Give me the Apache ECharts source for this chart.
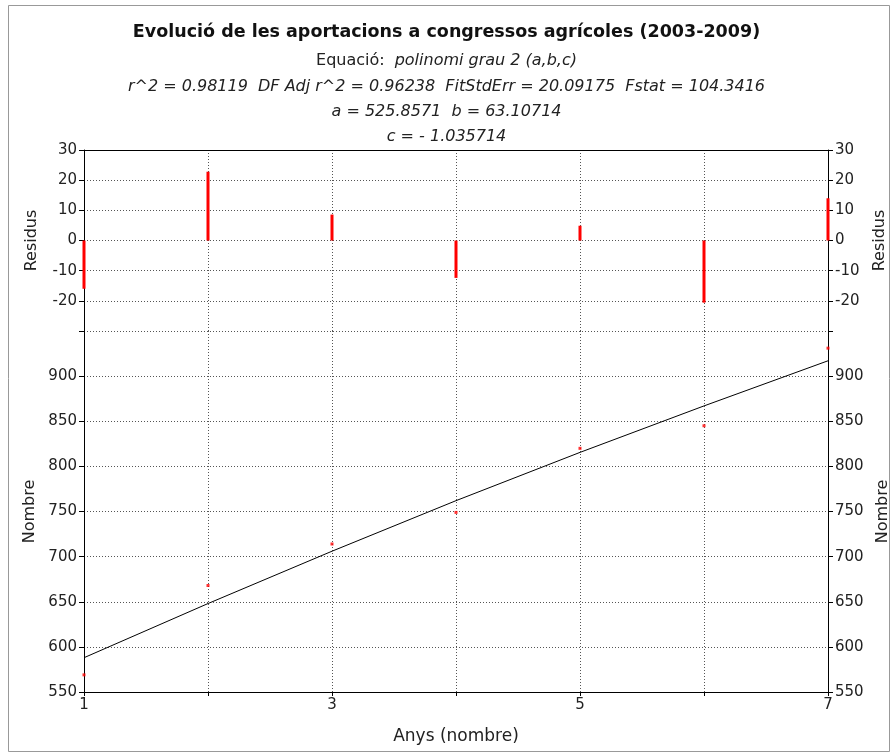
<!DOCTYPE html>
<html>
<head>
<meta charset="utf-8">
<script src="https://cdn.jsdelivr.net/npm/echarts@6/dist/echarts.min.js"></script>
<style>
  html, body { margin: 0; padding: 0; background: #fff; }
  #chart { width: 893px; height: 753px; }
</style>
</head>
<body>
<div id="chart"></div>
<script>
// Years as index (2003 = 1 ... 2009 = 7)
var years = [1, 2, 3, 4, 5, 6, 7];
// Observed contributions
var counts = [569, 668, 714, 749, 820, 845, 931];
// Fitted polynomial curve, read at each year
var fitted = [588, 648, 706, 762, 815.5, 867, 917];
// Residuals (observed - fitted)
var residuals = [-16, 22.8, 8.6, -12.4, 4.9, -20.6, 14];
// Tick labels
var xLabels = [1, 3, 5, 7];
var residTicks = [-20, -10, 0, 10, 20, 30];
var countTicks = [550, 600, 650, 700, 750, 800, 850, 900];

var FONT = 'DejaVu Sans, Liberation Sans, sans-serif';
var TXT = '#222';

var dotted = { show: true, lineStyle: { color: '#555', type: [1, 2], width: 1 } };
var subStyle = { fontFamily: FONT, fontSize: 16, fontStyle: 'italic', fontWeight: 'normal', color: TXT };

function yAxisDef(grid, pos, min, max, step, ticks, name, split) {
  return {
    type: 'value', gridIndex: grid, position: pos,
    min: min, max: max, interval: step,
    name: name, nameLocation: 'middle', nameRotate: 90, nameGap: 44,
    nameTextStyle: { fontFamily: FONT, fontSize: 16, color: TXT },
    axisLine: { show: true, onZero: false, lineStyle: { color: '#000', width: 1 } },
    axisTick: { show: true, length: 5, lineStyle: { color: '#000' } },
    axisLabel: {
      margin: 7, fontFamily: FONT, fontSize: 15, color: TXT,
      formatter: function (v) { return ticks.indexOf(v) >= 0 ? String(v) : ''; }
    },
    splitLine: split ? dotted : { show: false }
  };
}

var chart = echarts.init(document.getElementById('chart'));

var option = {
  animation: false,
  backgroundColor: '#fff',
  graphic: [{
    type: 'rect',
    shape: { x: 8.5, y: 5.5, width: 881, height: 746 },
    style: { fill: 'none', stroke: '#999', lineWidth: 1 }
  }],
  title: [
    { text: 'Evolució de les aportacions a congressos agrícoles (2003-2009)', left: 'center', top: 18,
      textStyle: { fontFamily: FONT, fontSize: 17.5, fontWeight: 'bold', color: '#111' } },
    { text: '{n|Equació:}  {i|polinomi grau 2 (a,b,c)}', left: 'center', top: 47,
      textStyle: { fontWeight: 'normal', rich: {
        n: { fontFamily: FONT, fontSize: 16, fontWeight: 'normal', color: TXT },
        i: { fontFamily: FONT, fontSize: 16, fontStyle: 'italic', fontWeight: 'normal', color: TXT }
      } } },
    { text: 'r^2 = 0.98119  DF Adj r^2 = 0.96238  FitStdErr = 20.09175  Fstat = 104.3416', left: 'center', top: 74,
      textStyle: subStyle },
    { text: 'a = 525.8571  b = 63.10714', left: 'center', top: 99, textStyle: subStyle },
    { text: 'c = - 1.035714', left: 'center', top: 124, textStyle: subStyle }
  ],
  grid: [
    { left: 84, right: 65, top: 150, height: 181, containLabel: false, outerBoundsMode: 'none' },
    { left: 84, right: 65, top: 331, bottom: 61, containLabel: false, outerBoundsMode: 'none' }
  ],
  xAxis: [
    {
      type: 'value', gridIndex: 0, position: 'top', min: 1, max: 7, interval: 1,
      axisLine: { show: true, onZero: false, lineStyle: { color: '#000', width: 1 } },
      axisTick: { show: false }, axisLabel: { show: false },
      splitLine: dotted
    },
    {
      type: 'value', gridIndex: 1, position: 'bottom', min: 1, max: 7, interval: 1,
      name: 'Anys (nombre)', nameLocation: 'middle', nameGap: 36,
      nameTextStyle: { fontFamily: FONT, fontSize: 17, color: TXT },
      axisLine: { show: true, onZero: false, lineStyle: { color: '#000', width: 1 } },
      axisTick: { show: true, length: 4, lineStyle: { color: '#000' } },
      axisLabel: {
        margin: 6, fontFamily: FONT, fontSize: 15, color: TXT,
        formatter: function (v) { return xLabels.indexOf(v) >= 0 ? String(v) : ''; }
      },
      splitLine: dotted
    }
  ],
  yAxis: [
    yAxisDef(0, 'left', -30, 30, 10, residTicks, 'Residus', true),
    yAxisDef(0, 'right', -30, 30, 10, residTicks, 'Residus', false),
    yAxisDef(1, 'left', 550, 950, 50, countTicks, 'Nombre', true),
    yAxisDef(1, 'right', 550, 950, 50, countTicks, 'Nombre', false)
  ],
  series: [
    {
      type: 'bar', xAxisIndex: 0, yAxisIndex: 0, barWidth: 3,
      itemStyle: { color: '#ff0000' },
      data: years.map(function (x, i) { return [x, residuals[i]]; })
    },
    {
      type: 'line', xAxisIndex: 1, yAxisIndex: 2, showSymbol: false,
      lineStyle: { color: '#000', width: 1 },
      data: years.map(function (x, i) { return [x, fitted[i]]; })
    },
    {
      type: 'scatter', xAxisIndex: 1, yAxisIndex: 2, symbol: 'rect', symbolSize: 3,
      itemStyle: { color: '#ff0000' },
      data: years.map(function (x, i) { return [x, counts[i]]; })
    }
  ]
};

chart.setOption(option);
</script>
</body>
</html>
